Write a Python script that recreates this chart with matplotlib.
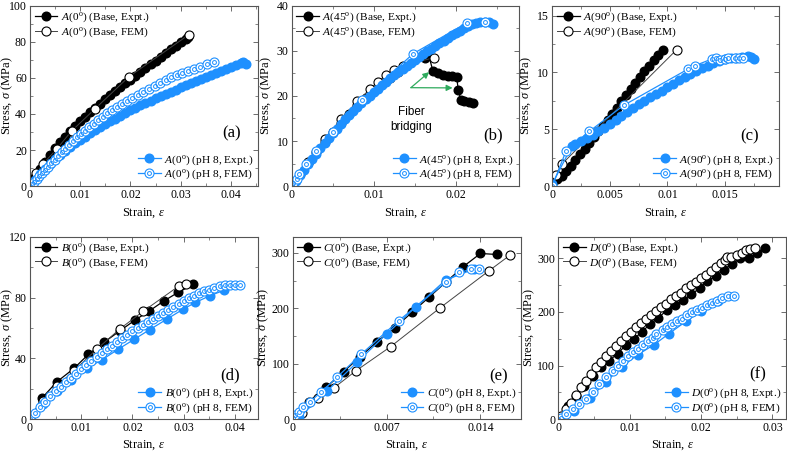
import matplotlib
matplotlib.use('Agg')
import matplotlib.pyplot as plt
from matplotlib.ticker import AutoMinorLocator

plt.rcParams['font.family'] = ['Liberation Serif', 'DejaVu Serif']
plt.rcParams['mathtext.fontset'] = 'custom'
plt.rcParams['mathtext.rm'] = 'Liberation Serif'
plt.rcParams['mathtext.it'] = 'Liberation Serif:italic'

BLUE = '#1E90FF'
GREEN = '#2EAA5C'
SPINE = '#555555'

# ---- panel (a): A(0)
a_be_x = [0, .001, .002, .003, .004, .005, .006, .007, .008, .009, .010, .011, .012, .013, .014, .015, .016,
          .017, .018, .019, .020, .021, .022, .023, .024, .025, .026, .027, .028, .029, .030, .031, .0315]
a_be_y = [0, 5, 9.5, 13.5, 17.5, 21, 24.3, 27.5, 30.5, 33.3, 36, 38.6, 41, 43.4, 45.8, 48.1, 50.4,
          52.6, 54.8, 57, 59.1, 61.2, 63.3, 65.3, 67.5, 69.7, 71.8, 73.9, 75.9, 77.9, 79.9, 81.9, 83]
a_bf_x = [0, .0012, .0025, .0053, .0083, .013, .0197, .0316]
a_bf_y = [0, 7, 12, 20.5, 30.6, 43, 60.7, 84]
a_pe_x = [0, .001, .002, .003, .004, .005, .006, .007, .008, .009, .010, .011, .012, .013, .014, .015,
          .016, .017, .018, .019, .020, .021, .022, .023, .024, .025, .026, .027, .028, .029, .030, .031,
          .032, .033, .034, .035, .036, .037, .038, .039, .040, .041, .042, .0425, .043]
a_pe_y = [0, 3.5, 6.5, 9.5, 12.3, 15, 17.4, 19.7, 21.8, 23.8, 25.7, 27.5, 29.3, 31, 32.7, 34.3,
          35.9, 37.4, 38.9, 40.4, 42.0, 43.4, 44.8, 46.1, 47.4, 48.7, 50.0, 51.2, 52.4, 53.6, 54.8, 56.0,
          57.2, 58.3, 59.4, 60.5, 61.6, 62.7, 63.8, 64.9, 66.0, 67.1, 68.2, 68.8, 68.0]
a_pf_x = [0, .0004, .0008, .0013, .0018, .0024, .003, .0036, .0042, .0049, .0056, .0063, .007, .0078,
          .0086, .0094, .0102, .011, .0118, .0127, .0136, .0145, .0154, .0164, .0174, .0184, .0194, .0204,
          .0215, .0226, .0237, .0248, .0259, .027, .0281, .0292, .0303, .0315, .0327, .0339, .0352, .0366]
a_pf_y = [0, 1.2, 2.4, 3.9, 5.4, 7.2, 9, 10.8, 12.6, 14.7, 16.8, 18.8, 20.8, 23,
          25, 27, 29, 30.8, 32.6, 34.6, 36.6, 38.5, 40.3, 42.2, 44, 45.7, 47.4, 49,
          50.7, 52.4, 54, 55.7, 57.3, 58.9, 60.3, 61.6, 62.8, 64, 65.2, 66.3, 67.5, 68.8]

# ---- panel (b): A(45)
b_be_x = [0, .001, .002, .003, .004, .005, .006, .007, .008, .009, .010, .011, .012, .013,
          .0163, .0167, .0172, .0178, .0184, .019, .0195, .0201, .0203, .0206, .021, .0216, .0221]
b_be_y = [0, 2.7, 5.1, 7.5, 9.8, 12.0, 14.1, 16.1, 17.9, 19.6, 21.2, 22.7, 24.1, 25.3,
          28.5, 29, 25.6, 25, 24.6, 24.4, 24.4, 24.2, 21.3, 19.2, 18.8, 18.7, 18.4]
b_bf_x = [0, .002, .004, .006, .008, .0095, .0105, .0115, .0125, .0135, .0173]
b_bf_y = [0, 5.3, 10.4, 14.9, 18.8, 21.5, 23.2, 24.6, 25.8, 26.7, 28.5]
b_pe_x = [0, .0005, .001, .0015, .002, .0025, .003, .0035, .004, .0045, .005, .0055, .006, .0065,
          .007, .0075, .008, .0085, .009, .0095, .010, .0105, .011, .0115, .012, .0125, .013, .0135,
          .014, .0145, .015, .0155, .016, .0165, .017, .0175, .018, .0185, .019, .0195, .020, .0205,
          .021, .0215, .022, .0225, .023, .0235, .024, .0245]
b_pe_y = [0, 1.2, 2.4, 3.6, 4.8, 6.0, 7.2, 8.35, 9.5, 10.6, 11.7, 12.75, 13.8, 14.8,
          15.8, 16.7, 17.6, 18.45, 19.3, 20.1, 20.9, 21.65, 22.4, 23.15, 23.9, 24.6, 25.3, 26.0,
          26.7, 27.35, 28.0, 28.65, 29.3, 29.9, 30.5, 31.1, 31.7, 32.3, 32.9, 33.45, 34.0, 34.55,
          35.1, 35.6, 36.0, 36.3, 36.5, 36.5, 36.4, 36.0]
b_pf_x = [0, .0002, .0006, .0009, .0017, .003, .005, .0086, .0148, .0213, .0235]
b_pf_y = [0.3, 0.7, 1.6, 2.7, 4.8, 7.8, 12.1, 19.2, 29.4, 36.2, 36.4]

# ---- panel (c): A(90)
c_be_x = [0, .0004, .0008, .0012, .0016, .002, .0024, .0028, .0032, .0036, .004, .0044, .0048,
          .0052, .0056, .006, .0064, .0068, .0072, .0076, .008, .0084, .0088, .0092, .0096]
c_be_y = [0.3, 0.6, 0.9, 1.3, 1.8, 2.3, 2.8, 3.3, 3.8, 4.3, 4.8, 5.3, 5.8,
          6.35, 6.9, 7.45, 8.0, 8.55, 9.1, 9.6, 10.1, 10.6, 11.1, 11.55, 12.0]
c_bf_x = [0, .0003, .0008, .0108]
c_bf_y = [0.3, 1.0, 1.9, 12.0]
c_pe_x = [0, .0017, .002, .0025, .003, .0035, .004, .0045, .005, .0055, .006, .0065, .007, .0075,
          .008, .0085, .009, .0095, .010, .0105, .011, .0115, .012, .0125, .013, .0135, .014, .0145,
          .015, .0155, .016, .0165, .017, .0173, .0175]
c_pe_y = [0.2, 3.5, 3.7, 3.95, 4.2, 4.5, 4.8, 5.15, 5.5, 5.85, 6.2, 6.55, 6.9, 7.2,
          7.5, 7.8, 8.1, 8.4, 8.7, 9.0, 9.3, 9.6, 9.85, 10.1, 10.35, 10.6, 10.8, 11.0,
          11.15, 11.25, 11.3, 11.35, 11.45, 11.4, 11.2]
c_pf_x = [0, .0012, .0032, .0062, .0118, .0124, .0139, .0142, .0146, .015, .0153, .0159, .0162, .0166]
c_pf_y = [0, 3.1, 4.8, 7.1, 10.3, 10.6, 11.2, 11.3, 11.1, 11.2, 11.3, 11.3, 11.3, 11.3]

# ---- panel (d): B(0)
d_be_x = [0, .0023, .0052, .0086, .0114, .0144, .0175, .0204, .0232, .0261, .0289, .0319]
d_be_y = [0, 13.8, 24.5, 33.5, 42.7, 50.5, 58, 65, 71, 77.7, 83.4, 88.6]
d_bf_x = [0, .0025, .0053, .0085, .013, .0175, .0221, .0291, .0304]
d_bf_y = [0, 12, 22, 31.7, 46, 59.3, 71, 87.7, 88.6]
d_pe_x = [0, .0026, .0053, .008, .0111, .014, .0172, .0203, .0234, .0268, .0299, .0323, .0351, .0378]
d_pe_y = [0, 10, 18.5, 26, 33.5, 39, 46, 52.5, 59, 66, 72.4, 76.8, 81.2, 84.7]
d_pf_x = [0, .001, .002, .003, .004, .005, .006, .007, .008, .009, .010, .011, .012, .013, .014,
          .015, .016, .017, .018, .019, .020, .021, .022, .023, .024, .025, .026, .027, .028, .029,
          .030, .031, .032, .033, .034, .035, .036, .037, .038, .039, .040, .041]
d_pf_y = [0, 4, 8, 11.5, 15, 18.5, 21.5, 24.5, 27.3, 30, 32.8, 35.5, 38.2, 40.8, 43.4,
          46, 48.5, 51, 53.3, 55.6, 57.8, 60, 62, 64, 66, 68, 70, 72, 74, 76,
          77.8, 79.6, 81.2, 82.7, 84, 85.2, 86.3, 87.3, 88, 88.3, 88.4, 88.4]

# ---- panel (e): C(0)
e_be_x = [0, .0012, .0025, .0038, .005, .0063, .0076, .0089, .0102, .0114, .0127, .014, .0152]
e_be_y = [0, 31.8, 57.6, 85.8, 112, 139.8, 165, 192.6, 220.8, 246.6, 274.8, 298.8, 297]
e_bf_x = [0, .0007, .0019, .0031, .0047, .0073, .011, .0146, .0162]
e_bf_y = [0, 12, 37.8, 57, 87, 130.8, 201, 267, 295.8]
e_pe_x = [0, .0005, .0026, .0048, .007, .0092, .0114, .0135]
e_pe_y = [0, 3.6, 51.6, 102.6, 153.6, 202.8, 250.8, 270.6]
e_pf_x = [0, .0002, .00045, .0008, .0013, .0021, .0033, .0051, .0079, .0114, .0124, .0133, .0139]
e_pf_y = [3, 7.8, 13.8, 21.6, 31.8, 48.6, 75.6, 117, 177.6, 246.6, 264.6, 270, 270.6]

# ---- panel (f): D(0)
f_be_x = [0, .0013, .0025, .0036, .0048, .006, .0071, .0083, .0095, .0106, .0117, .0129, .014,
          .0152, .0164, .0175, .0186, .0198, .0209, .0221, .0232, .0244, .0255, .0267, .0279, .029]
f_be_y = [0, 25, 43.8, 62.5, 81.3, 96.9, 109.4, 121.9, 138.8, 150, 162.5, 178, 188.8,
          203, 212.5, 221.3, 232.5, 243.8, 257.5, 267.5, 278.8, 290, 300, 300, 309, 319]
f_bf_x = [0, .0004, .0011, .0018, .0025, .0032, .0039, .0046, .0053, .006, .0067, .0074, .0081, .0088,
          .0095, .0102, .0109, .0116, .0123, .013, .0137, .0144, .0151, .0158, .0165, .0172, .0179,
          .0186, .0193, .02, .0207, .0214, .0221, .0228, .0233, .0237, .0242, .025, .0258, .0263,
          .0268, .0276]
f_bf_y = [0, 6.3, 18.8, 31, 45, 59.4, 71.9, 84.4, 97, 107.5, 117.5, 128, 136, 145,
          155, 162.5, 171.9, 180, 187.5, 193.8, 201, 209.4, 215.6, 223.8, 230, 236, 243.8,
          250, 256, 262.5, 268.8, 276, 284, 290.6, 297, 302, 303, 306, 310, 315, 318, 319.5]
f_pe_x = [0, .0022, .0045, .0067, .0089, .0111, .0134, .0155, .0179, .02, .0224]
f_pe_y = [0, 15, 40, 70, 98, 120, 138.8, 159.4, 182.5, 201, 220]
f_pf_x = [0, .0004, .0011, .002, .0029, .0039, .0048, .0057, .0067, .0076, .0083, .009, .0097, .0104,
          .0111, .0118, .0125, .0132, .0137, .0146, .0153, .016, .0167, .0174, .0181, .0188, .0195,
          .0202, .0209, .0216, .0223, .023, .0238, .0246]
f_pf_y = [0, 3, 9.4, 18.8, 28, 37.5, 50, 65.6, 78, 90.6, 100, 109.4, 117.5, 125,
          131, 137.5, 145, 151, 159.4, 165.6, 172, 178, 182.5, 187.5, 194, 199, 203,
          207.5, 212.5, 217, 221, 226, 230, 230]

names = [r'$A$(0$^{\rm o}$)', r'$A$(45$^{\rm o}$)', r'$A$(90$^{\rm o}$)',
         r'$B$(0$^{\rm o}$)', r'$C$(0$^{\rm o}$)', r'$D$(0$^{\rm o}$)']
tags = ['(a)', '(b)', '(c)', '(d)', '(e)', '(f)']
xticks = [[0, .01, .02, .03, .04], [0, .01, .02], [0, .005, .01, .015],
          [0, .01, .02, .03, .04], [0, .007, .014], [0, .01, .02, .03]]
xticklabels = [['0', '0.01', '0.02', '0.03', '0.04'], ['0', '0.01', '0.02'],
               ['0', '0.005', '0.01', '0.015'], ['0', '0.01', '0.02', '0.03', '0.04'],
               ['0', '0.007', '0.014'], ['0', '0.01', '0.02', '0.03']]
yticks = [[0, 20, 40, 60, 80, 100], [0, 10, 20, 30, 40], [0, 5, 10, 15],
          [0, 40, 80, 120], [0, 100, 200, 300], [0, 100, 200, 300]]
xlims = [0.0454, 0.0277, 0.0197, 0.0445, 0.0170, 0.0319]
ylims = [100, 40, 15.85, 120, 329, 340]
tag_pos = [(0.885, 0.293), (0.887, 0.283), (0.872, 0.274), (0.877, 0.243), (0.902, 0.233), (0.876, 0.248)]
ylabel_x = [-0.1, -0.11, -0.113, -0.1, -0.127, -0.127]
xlabel_y = [-0.15, -0.15, -0.15, -0.141, -0.141, -0.141]
rects = [(0.0381, 0.5903, 0.2897, 0.3965), (0.3707, 0.5903, 0.2888, 0.3965), (0.7018, 0.5903, 0.2881, 0.3965),
         (0.0381, 0.0764, 0.2897, 0.4022), (0.3717, 0.0764, 0.2900, 0.4022), (0.7094, 0.0764, 0.2893, 0.4022)]

series = [
    (a_be_x, a_be_y, a_bf_x, a_bf_y, a_pe_x, a_pe_y, a_pf_x, a_pf_y),
    (b_be_x, b_be_y, b_bf_x, b_bf_y, b_pe_x, b_pe_y, b_pf_x, b_pf_y),
    (c_be_x, c_be_y, c_bf_x, c_bf_y, c_pe_x, c_pe_y, c_pf_x, c_pf_y),
    (d_be_x, d_be_y, d_bf_x, d_bf_y, d_pe_x, d_pe_y, d_pf_x, d_pf_y),
    (e_be_x, e_be_y, e_bf_x, e_bf_y, e_pe_x, e_pe_y, e_pf_x, e_pf_y),
    (f_be_x, f_be_y, f_bf_x, f_bf_y, f_pe_x, f_pe_y, f_pf_x, f_pf_y),
]

fig = plt.figure(figsize=(7.87, 4.54), dpi=100)

axes = []
for i in range(6):
    ax = fig.add_axes(rects[i])
    axes.append(ax)
    bex, bey, bfx, bfy, pex, pey, pfx, pfy = series[i]

    h1, = ax.plot(bex, bey, '-o', color='k', mfc='k', mec='k', ms=6.2, lw=0.9)
    h2, = ax.plot(bfx, bfy, '-o', color='#444444', mfc='white', mec='k', ms=6.5, lw=0.7, mew=0.8)
    h3, = ax.plot(pex, pey, '-o', color=BLUE, mfc=BLUE, mec=BLUE, ms=6.2, lw=0.9)
    h4, = ax.plot(pfx, pfy, '-o', color=BLUE, mfc='white', mec=BLUE, ms=6.5, lw=0.9, mew=0.8)
    h5, = ax.plot(pfx, pfy, 'o', mfc='none', mec=BLUE, ms=2.8, mew=0.7)

    leg1 = ax.legend([h1, h2], [names[i] + ' (Base, Expt.)', names[i] + ' (Base, FEM)'],
                     loc='upper left', frameon=False, fontsize=8.2, handlelength=2.0,
                     handletextpad=0.3, labelspacing=0.12, borderaxespad=0.2, borderpad=0.2)
    ax.add_artist(leg1)
    ax.legend([h3, (h4, h5)], [names[i] + ' (pH 8, Expt.)', names[i] + ' (pH 8, FEM)'],
              loc='lower right', frameon=False, fontsize=8.2, handlelength=2.0,
              handletextpad=0.3, labelspacing=0.12, borderaxespad=0.2, borderpad=0.2)

    ax.set_xlim(0, xlims[i])
    ax.set_ylim(0, ylims[i])
    ax.set_xticks(xticks[i], xticklabels[i])
    ax.set_yticks(yticks[i])
    ax.xaxis.set_minor_locator(AutoMinorLocator(2))
    ax.yaxis.set_minor_locator(AutoMinorLocator(2))
    ax.tick_params(which='both', direction='in', top=True, right=True, color=SPINE,
                   labelsize=8.5, pad=2.2)
    ax.tick_params(which='major', length=3.5, width=0.6)
    ax.tick_params(which='minor', length=2, width=0.5)
    for s in ax.spines.values():
        s.set_color(SPINE)
        s.set_linewidth(0.8)
    ax.set_xlabel(r'Strain, $\varepsilon$', fontsize=9)
    ax.set_ylabel(r'Stress, $\sigma$ (MPa)', fontsize=9)
    ax.xaxis.label.set_va('center')
    ax.yaxis.label.set_va('center')
    ax.xaxis.set_label_coords(0.5, xlabel_y[i])
    ax.yaxis.set_label_coords(ylabel_x[i], 0.5)
    ax.text(tag_pos[i][0], tag_pos[i][1], tags[i], transform=ax.transAxes,
            ha='center', va='center', fontsize=12)

# fiber bridging note in (b)
axb = axes[1]
axb.text(0.0146, 14.7, 'Fiber\nbridging', ha='center', va='center', fontsize=8.5,
         family='Liberation Sans', linespacing=1.3)
for tip in [(0.01675, 25.3), (0.0196, 21.8)]:
    axb.annotate('', xy=tip, xytext=(0.01452, 21.85),
                 arrowprops=dict(arrowstyle='-|>', color=GREEN, lw=0.9, mutation_scale=9,
                                 shrinkA=0, shrinkB=0))

fig.savefig('out.png', dpi=100)
